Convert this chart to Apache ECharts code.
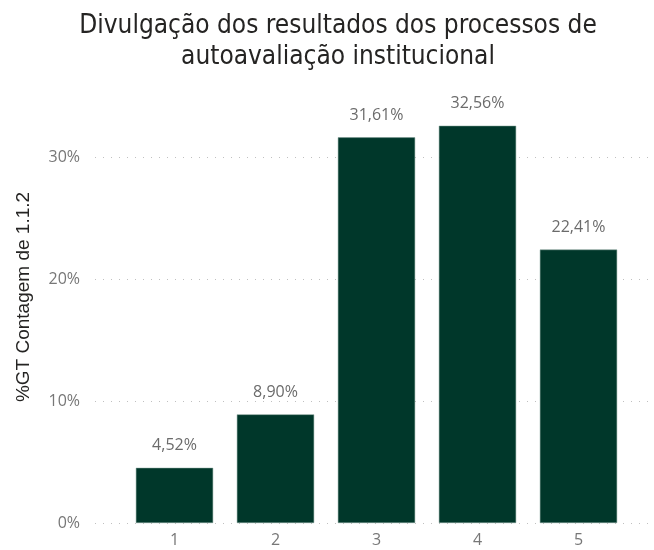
<!DOCTYPE html>
<html><head><meta charset="utf-8">
<script src="https://cdn.jsdelivr.net/npm/echarts@6/dist/echarts.min.js"></script>
<style>html,body{margin:0;padding:0;background:#fff}#c{width:654px;height:550px}</style>
</head><body><div id="c"></div>
<script>
const categories = ['1', '2', '3', '4', '5'];
const values = [4.52, 8.90, 31.61, 32.56, 22.41];
const yTicks = [0, 10, 20, 30];
const titleText = 'Divulgação dos resultados dos processos de\nautoavaliação institucional';
const yName = '%GT Contagem de 1.1.2';

const chart = echarts.init(document.getElementById('c'));
const labelFont = '"Segoe UI", "Open Sans", sans-serif';
chart.setOption({
  animation: false,
  title: {
    text: titleText, left: 333, top: 6, textAlign: 'center',
    textStyle: { fontFamily: '"DejaVu Sans Condensed", "Liberation Sans Narrow", sans-serif', fontSize: 26, fontWeight: 'normal', color: '#252423', lineHeight: 31 }
  },
  grid: [
    { left: 95, right: 4, top: 157, bottom: 27 },
    { left: 124, right: 25, top: 96, bottom: 27 }
  ],
  xAxis: [
    { gridIndex: 0, type: 'category', data: categories, show: false },
    { gridIndex: 1, type: 'category', data: categories,
      axisLine: { show: false }, axisTick: { show: false },
      axisLabel: { color: '#777', fontSize: 16, fontFamily: labelFont, margin: 9 } }
  ],
  yAxis: [
    { gridIndex: 0, type: 'value', min: yTicks[0], max: yTicks[yTicks.length - 1], interval: 10,
      name: yName, nameLocation: 'middle', nameGap: 62,
      nameTextStyle: { color: '#252423', fontSize: 19, fontFamily: '"Liberation Sans", Arial, sans-serif', padding: [0, 0, 0, 86] },
      axisLine: { show: false }, axisTick: { show: false },
      axisLabel: { color: '#777', fontSize: 16, fontFamily: labelFont, margin: 15, formatter: v => v + '%' },
      splitLine: { lineStyle: { color: '#c0c0c0', type: [1, 7], width: 1 } } },
    { gridIndex: 1, type: 'value', min: 0, max: 35, show: false, splitLine: { show: false } }
  ],
  series: [{
    type: 'bar', xAxisIndex: 1, yAxisIndex: 1, data: values,
    barCategoryGap: '23.5%',
    itemStyle: { color: '#00372a', borderColor: '#7a9a90', borderWidth: 0.5 },
    label: { show: true, position: 'top', distance: 14, color: '#6b6b6b', fontSize: 16, fontFamily: labelFont,
      formatter: p => p.value.toFixed(2).replace('.', ',') + '%' }
  }]
});
</script></body></html>
